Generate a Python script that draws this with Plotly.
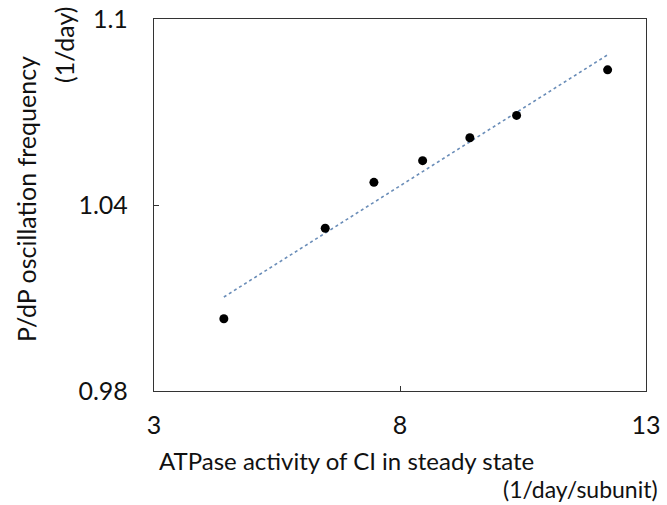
import numpy as np
import plotly.graph_objects as go

# Data
atpase = [4.42, 6.48, 7.47, 8.46, 9.42, 10.37, 12.22]
freq = [1.0033, 1.0325, 1.0473, 1.0543, 1.0617, 1.0689, 1.0836]

x_ticks = [3, 8, 13]
y_ticks = [0.98, 1.04, 1.1]
y_tick_text = ["0.98", "1.04", "1.1"]

x_title = "ATPase activity of CI in steady state"
x_unit = "(1/day/subunit)"
y_title = "P/dP oscillation frequency"
y_unit = "(1/day)"

slope, intercept = np.polyfit(atpase, freq, 1)
trend_x = [min(atpase), max(atpase)]
trend_y = [slope * v + intercept for v in trend_x]

FONT = "Lato"
TXT = "#111111"
W, H = 667, 505
L, R, T, B = 154, 21, 19, 114
PW, PH = W - L - R, H - T - B

def px_to_paper_x(p):
    return (p - L) / PW

def px_to_paper_y(p):
    return (H - B - p) / PH

fig = go.Figure()
fig.add_trace(go.Scatter(x=trend_x, y=trend_y, mode="lines",
                         line=dict(color="#6a8db8", width=1.6, dash="dot"),
                         showlegend=False))
fig.add_trace(go.Scatter(x=atpase, y=freq, mode="markers",
                         marker=dict(color="black", size=9),
                         showlegend=False))

fig.update_layout(
    width=W, height=H,
    margin=dict(l=L, r=R, t=T, b=B, autoexpand=False),
    plot_bgcolor="white", paper_bgcolor="white",
    font=dict(family=FONT, color=TXT),
    xaxis=dict(range=[3, 13], tickvals=x_ticks, ticks="inside", ticklen=5,
               tickcolor="#333333", showline=True, linecolor="#333333",
               linewidth=1.3, mirror=True, showgrid=False, zeroline=False,
               automargin=False,
               tickfont=dict(size=25, family=FONT, color=TXT),
               ticklabelstandoff=12),
    yaxis=dict(range=[0.98, 1.1], tickvals=y_ticks, ticktext=y_tick_text,
               ticks="inside", ticklen=5, tickcolor="#333333", showline=True,
               linecolor="#333333", linewidth=1.3, mirror=True, showgrid=False,
               zeroline=False, automargin=False,
               tickfont=dict(size=25, family=FONT, color=TXT),
               ticklabelstandoff=20),
)

fig.add_annotation(text=x_title, xref="paper", yref="paper",
                   x=px_to_paper_x(157), y=px_to_paper_y(460),
                   xanchor="left", yanchor="middle", showarrow=False,
                   font=dict(size=24, family=FONT, color=TXT))
fig.add_annotation(text=x_unit, xref="paper", yref="paper",
                   x=px_to_paper_x(660), y=px_to_paper_y(489),
                   xanchor="right", yanchor="middle", showarrow=False,
                   font=dict(size=23, family=FONT, color=TXT))
fig.add_annotation(text=y_title, xref="paper", yref="paper",
                   x=px_to_paper_x(26), y=px_to_paper_y(199),
                   xanchor="center", yanchor="middle", textangle=-90,
                   showarrow=False,
                   font=dict(size=25, family=FONT, color=TXT))
fig.add_annotation(text=y_unit, xref="paper", yref="paper",
                   x=px_to_paper_x(64), y=px_to_paper_y(5),
                   xanchor="center", yanchor="top", textangle=-90,
                   showarrow=False,
                   font=dict(size=25, family=FONT, color=TXT))

fig.write_html("out.html")
